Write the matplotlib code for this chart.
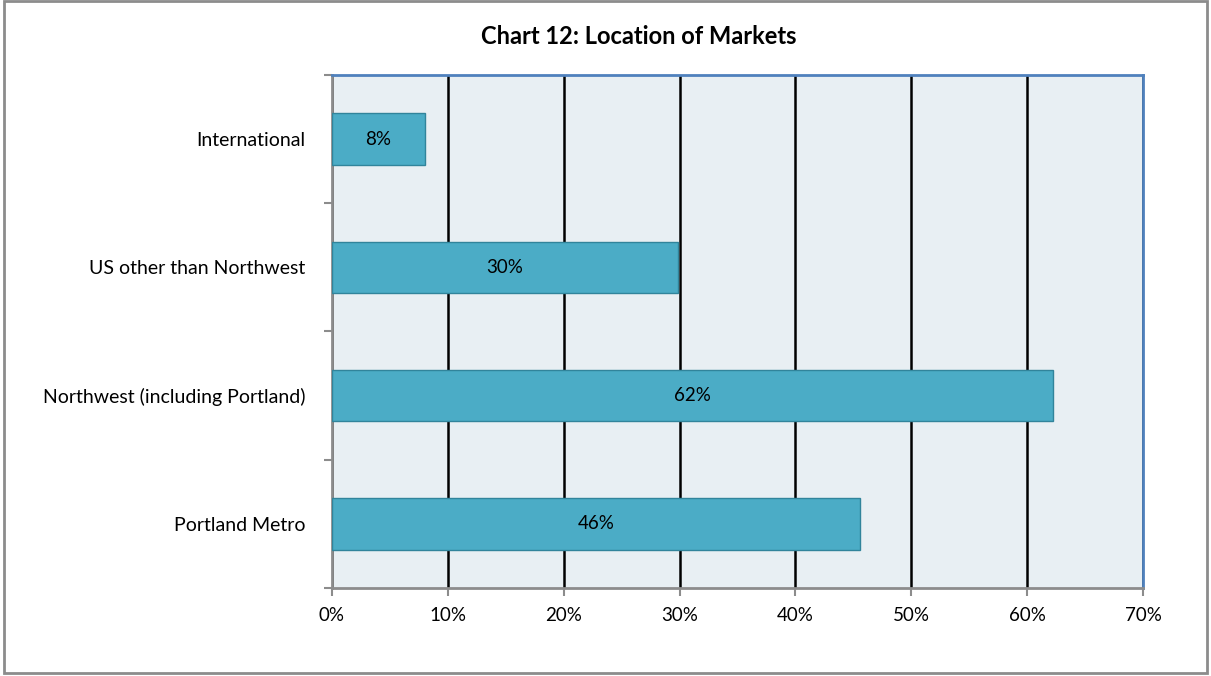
import matplotlib.pyplot as plt
from matplotlib.patches import Rectangle

categories = ['Portland Metro', 'Northwest (including Portland)', 'US other than Northwest', 'International']
values = [45.6, 62.2, 29.9, 8.0]
xticks = [0, 10, 20, 30, 40, 50, 60, 70]


def main():
    plt.rcParams['font.family'] = ['Lato', 'DejaVu Sans']
    fig = plt.figure(figsize=(12.11, 6.76), dpi=100)
    fig.patches.append(Rectangle((0.003, 0.004), 0.994, 0.994, transform=fig.transFigure,
                                 fill=False, edgecolor='#8c8c8c', linewidth=2))
    ax = fig.add_axes([0.2741, 0.1302, 0.6697, 0.7589])
    ax.set_facecolor('#e8eff3')

    y = range(len(categories))
    bars = ax.barh(y, values, height=0.4, color='#4bacc6', edgecolor='#31849b', linewidth=1, zorder=3)
    for b, v in zip(bars, values):
        ax.text(v / 2, b.get_y() + b.get_height() / 2, '{0}%'.format(round(v)),
                ha='center', va='center', fontsize=13.5, color='black', zorder=4)

    ax.set_xlim(0, 70)
    ax.set_ylim(-0.5, 3.5)
    ax.set_xticks(xticks)
    ax.set_xticklabels(['{0}%'.format(t) for t in xticks], fontsize=13.5)
    ax.xaxis.grid(True, color='black', linewidth=1.8, zorder=1)
    ax.set_axisbelow(True)

    ax.set_yticks(list(y))
    ax.set_yticklabels(categories, fontsize=14)
    ax.tick_params(axis='y', length=0, pad=19)
    ax.set_yticks([-0.5, 0.5, 1.5, 2.5, 3.5], minor=True)
    ax.tick_params(axis='y', which='minor', length=6, color='#8c8c8c', width=1.5)
    ax.tick_params(axis='x', length=6, color='#8c8c8c', width=1.5, pad=8)

    ax.spines['left'].set_color('#8c8c8c')
    ax.spines['bottom'].set_color('#8c8c8c')
    ax.spines['left'].set_linewidth(2)
    ax.spines['bottom'].set_linewidth(2)
    ax.spines['top'].set_color('#4f81bd')
    ax.spines['right'].set_color('#4f81bd')
    ax.spines['top'].set_linewidth(2)
    ax.spines['right'].set_linewidth(2)

    fig.text(0.5277, 0.946, 'Chart 12: Location of Markets', ha='center', va='center',
             fontsize=17, fontweight='bold')
    fig.savefig('out.png', dpi=100)


if __name__ == '__main__':
    main()
